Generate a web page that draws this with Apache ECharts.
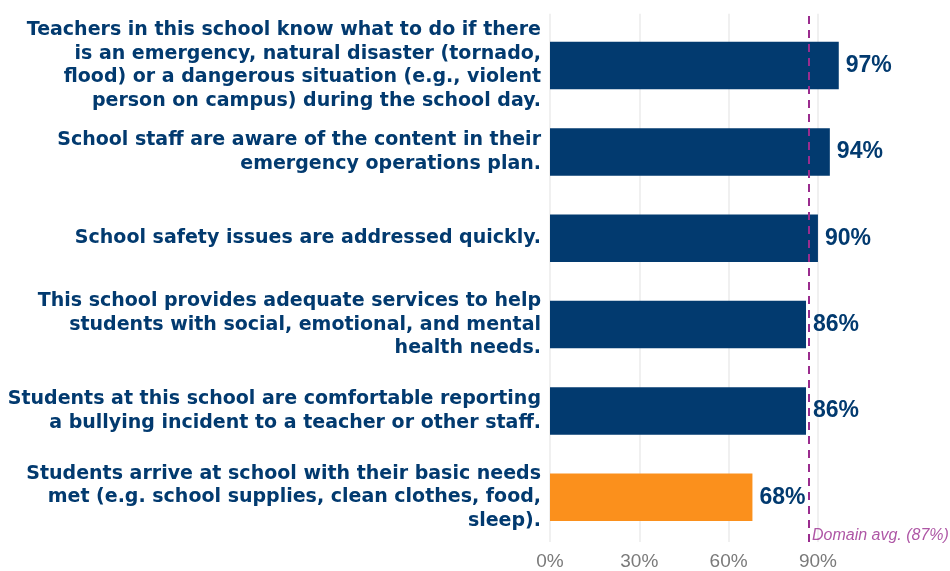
<!DOCTYPE html>
<html>
<head>
<meta charset="utf-8">
<script src="https://cdn.jsdelivr.net/npm/echarts@6/dist/echarts.min.js"></script>
<style>html,body{margin:0;padding:0;background:#fff}#c{width:950px;height:571px}</style>
</head>
<body>
<div id="c"></div>
<script>
const categories = [
  "Teachers in this school know what to do if there\nis an emergency, natural disaster (tornado,\nflood) or a dangerous situation (e.g., violent\nperson on campus) during the school day.",
  "School staff are aware of the content in their\nemergency operations plan.",
  "School safety issues are addressed quickly.",
  "This school provides adequate services to help\nstudents with social, emotional, and mental\nhealth needs.",
  "Students at this school are comfortable reporting\na bullying incident to a teacher or other staff.",
  "Students arrive at school with their basic needs\nmet (e.g. school supplies, clean clothes, food,\nsleep)."
];
const values = [97, 94, 90, 86, 86, 68];
const flagged = [false, false, false, false, false, true];
const domainAvg = 87;
const domainLabel = "Domain avg. (87%)";
const xTicks = [0, 30, 60, 90];

const NAVY = '#023a6f', ORANGE = '#fb901c', PURPLE = '#9a2c8e';
const FONT = '"Liberation Sans", Arial, Helvetica, sans-serif';
const CAT_FONT = '"DejaVu Sans", "Liberation Sans", sans-serif';

const chart = echarts.init(document.getElementById('c'), null, {renderer: 'canvas'});
chart.setOption({
  animation: false,
  backgroundColor: '#fff',
  textStyle: {fontFamily: FONT},
  grid: [
    {left: 550, right: 132.1, top: 13.7, bottom: 22.2, containLabel: false},
    {left: 550, right: 102.3, top: 22.4, bottom: 30.6, containLabel: false}
  ],
  xAxis: [
    {gridIndex: 0, type: 'value', min: xTicks[0], max: xTicks[xTicks.length - 1], interval: 30,
     axisLine: {show: false}, axisTick: {show: false},
     splitLine: {show: true, lineStyle: {color: '#ebebeb', width: 1.5}},
     axisLabel: {formatter: v => v + '%', color: '#7a7a7a', fontSize: 19, margin: 10, fontFamily: FONT}},
    {gridIndex: 1, type: 'value', min: 0, max: 100, show: false}
  ],
  yAxis: [
    {gridIndex: 0, type: 'value', min: 0, max: 1, show: false},
    {gridIndex: 1, type: 'category', data: categories, inverse: true,
     axisLine: {show: false}, axisTick: {show: false},
     axisLabel: {color: NAVY, fontWeight: 'bold', fontSize: 19, lineHeight: 23.5, margin: 9,
                 align: 'right', fontFamily: CAT_FONT}}
  ],
  series: [
    {type: 'bar', xAxisIndex: 1, yAxisIndex: 1, barWidth: '55%', z: 2,
     data: values.map((v, i) => ({value: v, itemStyle: {color: flagged[i] ? ORANGE : NAVY}})),
     label: {show: true, position: 'right', distance: 7, formatter: p => p.value + '%',
             color: NAVY, fontWeight: 'bold', fontSize: 23, fontFamily: FONT}},
    {type: 'scatter', xAxisIndex: 0, yAxisIndex: 0, symbolSize: 0, z: 5,
     data: [[domainAvg, 0]],
     label: {show: true, position: 'right', distance: 3, offset: [0, -6], formatter: domainLabel,
             color: PURPLE, fontStyle: 'italic', fontSize: 16, fontFamily: FONT},
     markLine: {silent: true, symbol: ['none', 'none'], z: 5,
       lineStyle: {color: PURPLE, type: [8, 6], width: 2},
       label: {show: false},
       data: [{xAxis: domainAvg}]}}
  ]
});
</script>
</body>
</html>
